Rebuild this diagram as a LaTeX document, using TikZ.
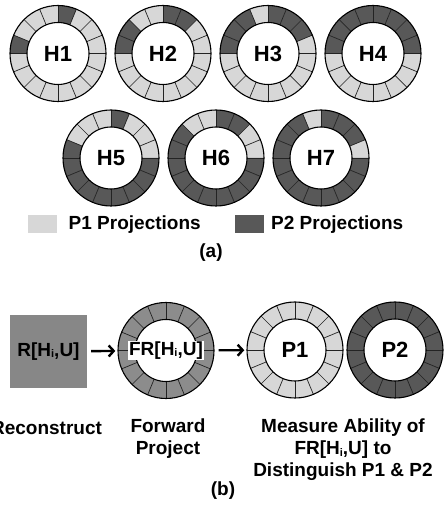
\documentclass[tikz,border=0pt]{standalone}
\usepackage{fontspec}
\setmainfont{Liberation Sans}
\usetikzlibrary{arrows.meta,positioning,calc}
\definecolor{projlight}{RGB}{215,215,215}
\definecolor{projdark}{RGB}{88,88,88}
\definecolor{fwdgray}{RGB}{140,140,140}
\definecolor{recgray}{RGB}{135,135,135}
\definecolor{segline}{RGB}{35,35,35}

\newcommand{\rin}{31}
\newcommand{\rout}{48}
\newcommand{\sub}[1]{\raisebox{-1.5pt}{\fontsize{11}{11}\selectfont #1}}
% ring of 16 projection cells round a named node
\newcommand{\ringbase}[2]{%
  \fill[#2, even odd rule] (#1) circle[radius=\rout] (#1) circle[radius=\rin];}
\newcommand{\ringcells}[2]{%
  \foreach \k in {#2} {
    \fill[projdark] ($(#1)+(\k*22.5:\rout)$)
      arc[start angle=\k*22.5, delta angle=22.5, radius=\rout]
      -- ($(#1)+(\k*22.5+22.5:\rin)$)
      arc[start angle=\k*22.5+22.5, delta angle=-22.5, radius=\rin] -- cycle;
  }}
\newcommand{\ringlines}[1]{%
  \foreach \k in {0,...,15} {
    \draw[segline, line width=0.7pt] ($(#1)+(\k*22.5:\rin)$) -- ($(#1)+(\k*22.5:\rout)$);
  }
  \draw[line width=1.1pt] (#1) circle[radius=\rout] (#1) circle[radius=\rin];}

\begin{document}
\begin{tikzpicture}[
    x=1pt, y=1pt,
    every node/.style={font=\fontsize{19}{22}\selectfont\bfseries},
    ring/.style={
        circle,
        minimum size=97pt,
        inner sep=0pt,
        font=\fontsize{22}{22}\selectfont\bfseries
    },
    legbox/.style={
        rectangle,
        minimum width=29pt,
        minimum height=18pt,
        inner sep=0pt
    },
    recbox/.style={
        rectangle,
        fill=recgray,
        minimum width=77pt,
        minimum height=73pt,
        inner sep=0pt
    },
    frlabel/.style={
        rectangle,
        fill=white,
        inner sep=1pt
    },
    caption/.style={
        align=center
    },
    flow/.style={
        -{Straight Barb[length=5pt,width=11pt]},
        line width=2.4pt,
        shorten <=4pt,
        shorten >=2pt
    }
]
\useasboundingbox (0,0) rectangle (444,512);

% (a) hypotheses
\node[ring] (h1) at (58,458.5) {H1};
\node[ring] (h2) at (163,458.5) {H2};
\node[ring] (h3) at (268,458.5) {H3};
\node[ring] (h4) at (373,458.5) {H4};
\node[ring] (h5) at (111,354) {H5};
\node[ring] (h6) at (216,354) {H6};
\node[ring] (h7) at (321,354) {H7};

\ringbase{h1}{projlight} \ringcells{h1}{3,7} \ringlines{h1}
\ringbase{h2}{projlight} \ringcells{h2}{2,3,6,7} \ringlines{h2}
\ringbase{h3}{projlight} \ringcells{h3}{1,2,3,5,6,7} \ringlines{h3}
\ringbase{h4}{projlight} \ringcells{h4}{0,...,7} \ringlines{h4}
\ringbase{h5}{projlight} \ringcells{h5}{3,7,8,...,15} \ringlines{h5}
\ringbase{h6}{projlight} \ringcells{h6}{2,3,6,7,8,...,15} \ringlines{h6}
\ringbase{h7}{projlight} \ringcells{h7}{1,2,3,5,6,7,8,...,15} \ringlines{h7}

% legend
\node[legbox, fill=projlight] (leg1) at (42.5,287.5) {};
\node[anchor=west, right=8pt of leg1] (leg1txt) {P1 Projections};
\node[legbox, fill=projdark] (leg2) at (249,287.5) {};
\node[anchor=west, right=4pt of leg2] (leg2txt) {P2 Projections};
\node (capa) at (211,259) {(a)};

% (b) pipeline
\node[recbox] (rec) at (48.5,160.5) {R[H\sub{i},U]};
\node[ring] (fr) at (166,161.5) {};
\node[ring] (p1) at (295,162) {P1};
\node[ring] (p2) at (395,162) {P2};

\ringbase{fr}{fwdgray} \ringlines{fr}
\ringbase{p1}{projlight} \ringlines{p1}
\ringbase{p2}{projdark} \ringlines{p2}
\node[frlabel] (frtxt) at (fr) {FR[H\sub{i},U]};

\draw[flow] (rec) -- (fr);
\draw[flow] (fr) -- (p1);

% captions
\node[caption] (reclab) at (46.5,84) {Reconstruct};
\node[caption] (fwdlab) at (168,73) {Forward\\Project};
\node[caption] (measlab) at (343,62) {Measure Ability of\\FR[H\sub{i},U] to\\Distinguish P1 \& P2};
\node (capb) at (223,21) {(b)};

\end{tikzpicture}
\end{document}
